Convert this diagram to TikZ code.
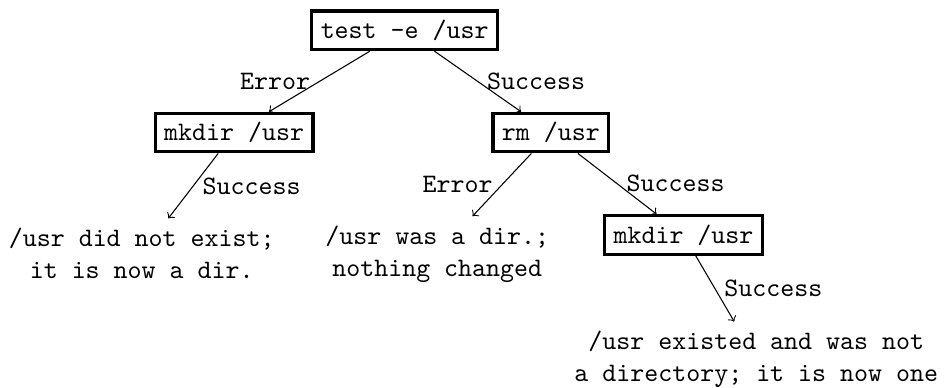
\documentclass[tikz,border=0pt]{standalone}
\usepackage{tikz}

\begin{document}
\begin{tikzpicture}[
  >=to,
  font=\ttfamily,
  cmd/.style={draw, very thick},
  leaf/.style={align=center},
  arr/.style={->, thin}
]
  \useasboundingbox (0,0) rectangle (12.55,-5.11);

  % Comandi (nodi con bordo)
  \node[cmd] (test)   at (5.34,-0.40) {test -e /usr};
  \node[cmd] (mkdirA) at (3.09,-1.75) {mkdir /usr};
  \node[cmd] (rm)     at (7.27,-1.75) {rm /usr};
  \node[cmd] (mkdirB) at (9.02,-3.10) {mkdir /usr};

  % Esiti (foglie)
  \node[leaf] (noexist) at (1.87,-3.34) {/usr did not exist;\\it is now a dir.};
  \node[leaf] (wasdir)  at (5.77,-3.35) {/usr was a dir.;\\nothing changed};
  \node[leaf] (wasfile) at (9.98,-4.74) {/usr existed and was not\\a directory; it is now one};

  % Frecce con etichette
  \draw[arr] (test)   -- node[midway, left]  {Error}   (mkdirA);
  \draw[arr] (test)   -- node[midway, right] {Success} (rm);
  \draw[arr] (mkdirA) -- node[midway, right] {Success} (noexist);
  \draw[arr] (rm)     -- node[midway, left]  {Error}   (wasdir);
  \draw[arr] (rm)     -- node[midway, right] {Success} (mkdirB);
  \draw[arr] (mkdirB) -- node[midway, right] {Success} (wasfile);
\end{tikzpicture}
\end{document}
